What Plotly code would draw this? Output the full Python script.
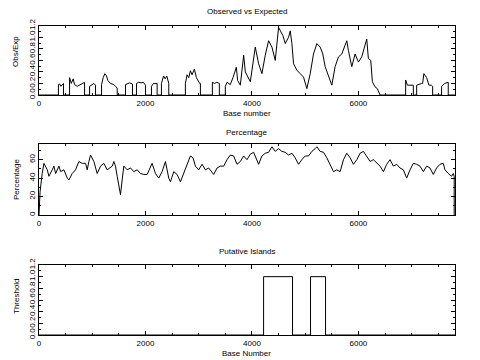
import plotly.graph_objects as go

# ---- data ----
obs_x = [0, 365, 365, 390, 410, 430, 445, 460, 460,
         574, 574, 606, 643, 668, 718, 781, 812, 856, 856,
         950, 950, 990, 1030, 1062, 1062,
         1175, 1175, 1206, 1237, 1268, 1293, 1343, 1406, 1437, 1469, 1469,
         1625, 1625, 1660, 1700, 1756, 1756,
         1831, 1831, 1870, 1920, 1960, 2000, 2000,
         2113, 2113, 2150, 2219, 2219,
         2300, 2300, 2340, 2370, 2400, 2438, 2438,
         2750, 2750, 2782, 2813, 2844, 2876, 2919, 2957, 2982, 3019, 3032, 3032,
         3257, 3257, 3300, 3340, 3388, 3388,
         3500, 3500, 3532, 3594, 3644, 3688, 3707, 3732, 3770,
         3782, 3845, 3876, 3970, 4063, 4126, 4188, 4251, 4313, 4376, 4438,
         4501, 4532, 4582, 4626, 4688, 4720, 4751, 4782, 4845, 4907, 4970,
         5032, 5095, 5157, 5220, 5282, 5332, 5376, 5438, 5501, 5563, 5626,
         5688, 5751, 5782, 5813, 5876, 5938, 6001, 6063, 6126, 6157, 6188,
         6232, 6263, 6313, 6357, 6407,
         6888, 6888, 6920, 6970, 7032, 7032,
         7095, 7095, 7140, 7188, 7207, 7230, 7282, 7325, 7370, 7395, 7395,
         7563, 7563, 7620, 7688, 7688, 7815]
obs_y = [0, 0, 0.18, 0.19, 0.15, 0.17, 0.20, 0.20, 0,
         0, 0.30, 0.20, 0.28, 0.18, 0.15, 0.18, 0.20, 0.22, 0,
         0, 0.15, 0.17, 0.20, 0.17, 0,
         0, 0.18, 0.30, 0.37, 0.33, 0.25, 0.20, 0.18, 0.15, 0.12, 0,
         0, 0.18, 0.20, 0.21, 0.19, 0,
         0, 0.20, 0.22, 0.21, 0.22, 0.17, 0,
         0, 0.15, 0.20, 0.20, 0,
         0, 0.20, 0.33, 0.28, 0.33, 0.20, 0,
         0, 0.20, 0.35, 0.30, 0.42, 0.35, 0.45, 0.30, 0.25, 0.20, 0.20, 0,
         0, 0.22, 0.20, 0.22, 0.20, 0,
         0, 0.15, 0.22, 0.18, 0.30, 0.45, 0.48, 0.25, 0.20,
         0.17, 0.69, 0.40, 0.23, 0.83, 0.54, 0.37, 0.69, 0.94, 0.83, 0.60,
         1.17, 1.11, 1.03, 0.89, 1.00, 1.11, 0.89, 0.54, 0.43, 0.37, 0.31,
         0.11, 0.37, 0.71, 0.89, 0.83, 0.71, 0.49, 0.31, 0.17, 0.49, 0.66,
         0.71, 0.89, 0.94, 0.77, 0.49, 0.71, 0.57, 0.66, 0.89, 0.97, 0.63,
         0.60, 0.23, 0.14, 0.11, 0,
         0, 0.26, 0.17, 0.17, 0.17, 0,
         0, 0.17, 0.19, 0.20, 0.20, 0.37, 0.30, 0.17, 0.17, 0.15, 0,
         0, 0.15, 0.20, 0.22, 0, 0]

pct_x = [0, 20, 60, 93, 155, 187, 249, 280, 312, 374, 406, 468, 531, 562,
         624, 687, 750, 812, 875, 906, 937, 968, 1031, 1093, 1156, 1218,
         1281, 1375, 1406, 1437, 1469, 1500, 1531, 1562, 1594, 1656, 1719,
         1781, 1844, 1906, 1969, 2031, 2094, 2125, 2188, 2250, 2313, 2375,
         2438, 2469, 2532, 2594, 2657, 2719, 2782, 2844, 2894, 2938, 3000,
         3063, 3126, 3188, 3282, 3345, 3407, 3470, 3532, 3594, 3657, 3720,
         3782, 3845, 3907, 3970, 4032, 4095, 4126, 4188, 4251, 4313, 4376,
         4438, 4501, 4563, 4626, 4688, 4751, 4813, 4876, 4938, 5001, 5063,
         5126, 5188, 5220, 5282, 5345, 5407, 5470, 5532, 5595, 5657, 5720,
         5782, 5845, 5907, 5970, 6032, 6095, 6157, 6220, 6282, 6345, 6407,
         6470, 6532, 6595, 6657, 6720, 6782, 6845, 6907, 6970, 7032, 7095,
         7157, 7220, 7282, 7345, 7407, 7470, 7532, 7595, 7626, 7688, 7751,
         7782, 7800, 7800]
pct_y = [0, 25, 45, 56, 49, 42, 49, 53, 45, 53, 47, 49, 40, 38,
         45, 49, 58, 56, 56, 49, 58, 65, 58, 45, 53, 56,
         49, 53, 58, 53, 42, 31, 22, 38, 53, 49, 51,
         47, 49, 45, 44, 44, 53, 56, 45, 40, 47, 58,
         40, 36, 47, 44, 36, 45, 53, 64, 62, 53, 49,
         55, 49, 51, 44, 51, 53, 53, 60, 65, 64, 55,
         58, 64, 60, 66, 68, 60, 55, 64, 67, 68, 74,
         69, 72, 69, 68, 65, 67, 62, 55, 60, 64, 64,
         69, 72, 74, 69, 68, 62, 55, 47, 49, 47, 60,
         67, 62, 55, 60, 67, 69, 64, 58, 60, 56, 53,
         47, 55, 60, 53, 55, 51, 49, 40, 49, 56, 55,
         53, 47, 53, 51, 44, 51, 55, 56, 49, 45, 42,
         45, 42, 0]

isl_x = [0, 4219, 4219, 4763, 4763, 5101, 5101, 5383, 5383, 7815]
isl_y = [0, 0, 1, 1, 0, 0, 1, 1, 0, 0]

x_ticks = [0, 2000, 4000, 6000]
obs_ticks = [0.0, 0.2, 0.4, 0.6, 0.8, 1.0, 1.2]
obs_labels = ["0.0", "0.2", "0.4", "0.6", "0.8", "1.0", "1.2"]
pct_ticks = [0, 20, 40, 60]

# ---- figure ----
W, H = 480, 360
fig = go.Figure()
line = dict(color="black", width=1)
fig.add_trace(go.Scatter(x=obs_x, y=obs_y, mode="lines", line=line, xaxis="x", yaxis="y"))
fig.add_trace(go.Scatter(x=pct_x, y=pct_y, mode="lines", line=line, xaxis="x2", yaxis="y2"))
fig.add_trace(go.Scatter(x=isl_x, y=isl_y, mode="lines", line=line, xaxis="x3", yaxis="y3"))

font = dict(family="Liberation Sans", size=8, color="black")
tfont = dict(family="Liberation Sans", size=8, color="black")
xdom = [39 / W, 455 / W]
def ydom(top, bot):
    return [1 - bot / H, 1 - top / H]

xcommon = dict(domain=xdom, range=[0, 7815], tickvals=x_ticks, ticks="inside", ticklen=4,
               tickcolor="black", showline=True, linecolor="black", linewidth=1, mirror="allticks",
               showgrid=False, zeroline=False, tickfont=tfont, automargin=False,
               minor=dict(dtick=500, ticks="inside", ticklen=2, tickcolor="black"))
ycommon = dict(ticks="inside", ticklen=4, tickcolor="black", showline=True, linecolor="black",
               linewidth=1, mirror="allticks", showgrid=False, zeroline=False, tickangle=-90,
               tickfont=tfont, automargin=False)

fig.update_layout(
    width=W, height=H, margin=dict(l=0, r=0, t=0, b=0, autoexpand=False),
    paper_bgcolor="white", plot_bgcolor="white", showlegend=False,
    xaxis=dict(xcommon, anchor="y"),
    xaxis2=dict(xcommon, anchor="y2"),
    xaxis3=dict(xcommon, anchor="y3"),
    yaxis=dict(ycommon, domain=ydom(25.7, 95), range=[0, 1.2], tickvals=obs_ticks,
               ticktext=obs_labels, anchor="x",
               minor=dict(dtick=0.1, ticks="inside", ticklen=2, tickcolor="black")),
    yaxis2=dict(ycommon, domain=ydom(144, 215), range=[0, 77], tickvals=pct_ticks, anchor="x2",
                minor=dict(dtick=10, ticks="inside", ticklen=2, tickcolor="black")),
    yaxis3=dict(ycommon, domain=ydom(265, 335), range=[0, 1.2], tickvals=obs_ticks,
                ticktext=obs_labels, anchor="x3",
                minor=dict(dtick=0.1, ticks="inside", ticklen=2, tickcolor="black")),
)

def ann(text, x, y, angle=0):
    fig.add_annotation(text=text, x=x / W, y=1 - y / H, xref="paper", yref="paper",
                       showarrow=False, font=font, textangle=angle,
                       xanchor="center", yanchor="middle")

ann("Observed vs Expected", 247, 12)
ann("Base number", 247, 113)
ann("Percentage", 247, 132)
ann("Putative Islands", 247, 252)
ann("Base Number", 247, 353)
ann("Obs/Exp", 16, 52, -90)
ann("Percentage", 16, 180, -90)
ann("Threshold", 16, 296, -90)

fig.write_html("out.html", config={"displayModeBar": False},
               post_script="document.body.style.margin='0px';document.body.style.padding='0px';")
